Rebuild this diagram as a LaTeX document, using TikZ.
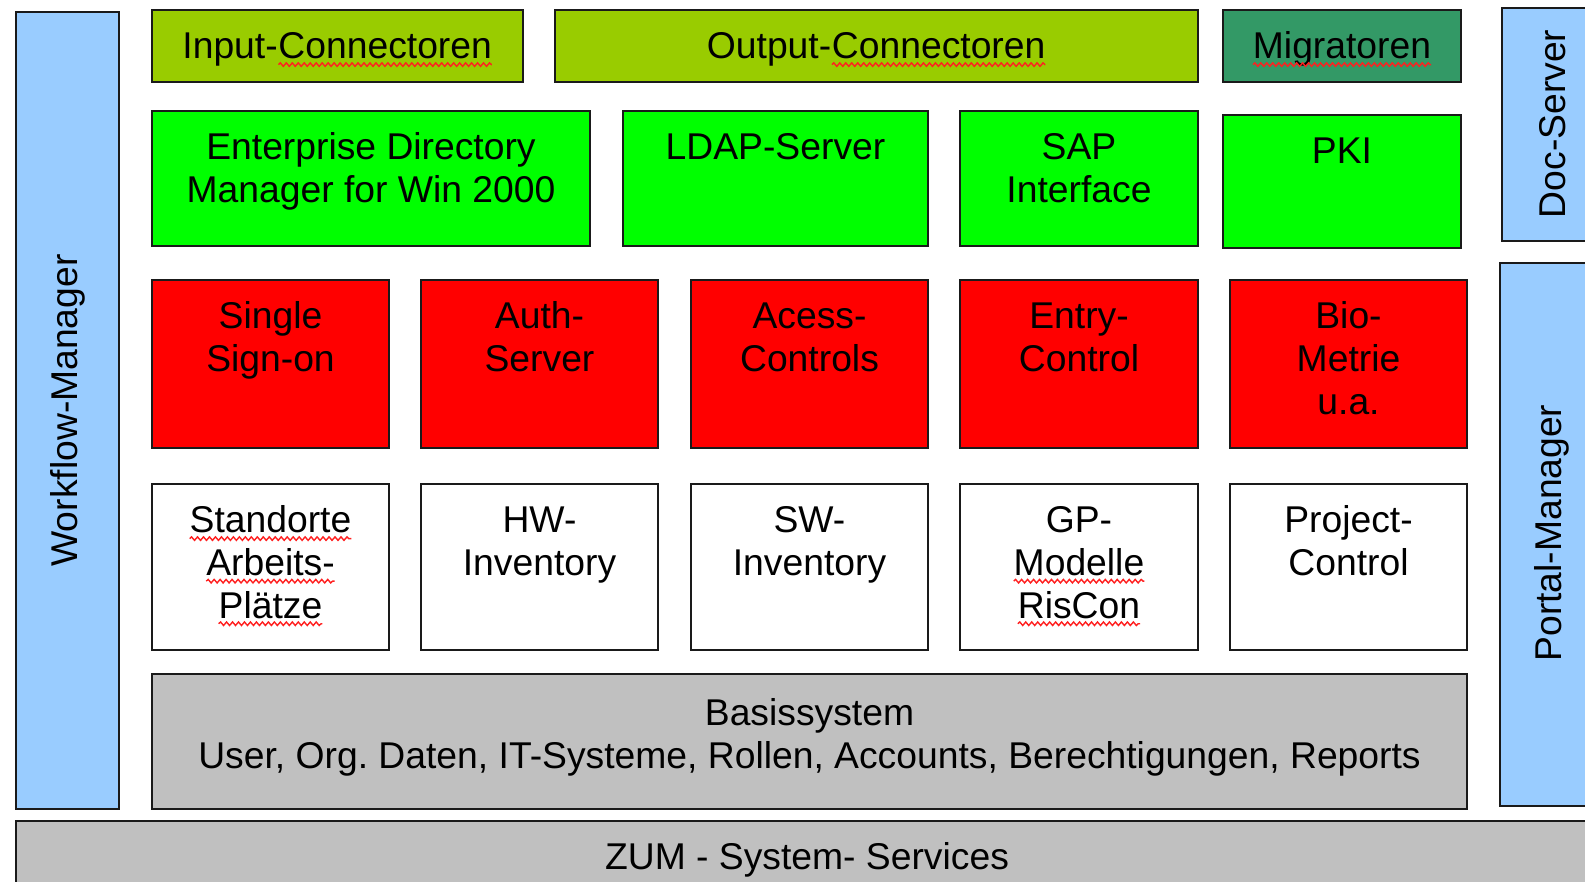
\documentclass[tikz,border=0pt]{standalone}
\usepackage{fontspec}
\setmainfont{Liberation Sans}
\usetikzlibrary{fit,calc,decorations.pathmorphing}
\frenchspacing

\definecolor{paneblue}{HTML}{99CCFF}
\definecolor{olivegreen}{HTML}{99CC00}
\definecolor{seagreen}{HTML}{339966}
\definecolor{brightgreen}{HTML}{00FF00}
\definecolor{alertred}{HTML}{FF0000}
\definecolor{basegray}{HTML}{C0C0C0}
\definecolor{edgegray}{HTML}{1A1A1A}
\definecolor{spellred}{HTML}{FF2020}

% word with a red wavy underline
\newcommand\wavy[1]{\tikz[baseline=(wv.base)]{\node[inner sep=0pt,outer sep=0pt,anchor=base] (wv) {#1};\draw[spellred,line width=0.4pt,decorate,decoration={snake,amplitude=0.5pt,segment length=1.7pt}] ([yshift=-1.6pt]wv.base west) -- ([yshift=-1.6pt]wv.base east);}}

% layer box spanning two corners: name, x1, y1, x2, y2, fill colour
\newcommand\layer[6]{%
  \coordinate (#1-a) at (#2,#3);
  \coordinate (#1-b) at (#4,#5);
  \node[blk,fill=#6,fit=(#1-a)(#1-b)] (#1) {};}

\begin{document}
\begin{tikzpicture}[x=0.01cm,y=-0.01cm,
  blk/.style={draw=edgegray,line width=0.75pt,inner sep=0pt,outer sep=0pt},
  txt/.style={font=\fontsize{10.6pt}{12.1pt}\selectfont,align=center,inner sep=0pt,anchor=north},
  vtxt/.style={font=\fontsize{10.6pt}{12.1pt}\selectfont,inner sep=0pt,rotate=90,anchor=center}]

\useasboundingbox (0,0) rectangle (1585,882);
\fill[white] (0,0) rectangle (1585,882);
\clip (0,0) rectangle (1585,882);

% side and bottom frames
\layer{wfm}{16}{12}{119}{809}{paneblue}
\layer{doc}{1502}{8}{1610}{241}{paneblue}
\layer{portal}{1500}{263}{1610}{806}{paneblue}
\layer{zum}{16}{821}{1600}{900}{basegray}
\layer{basis}{152}{674}{1467}{809}{basegray}

% connector row
\layer{in}{152}{10}{523}{82}{olivegreen}
\layer{out}{555}{10}{1198}{82}{olivegreen}
\layer{mig}{1223}{10}{1461}{82}{seagreen}

% directory / interface row
\layer{edm}{152}{111}{590}{246}{brightgreen}
\layer{ldap}{623}{111}{928}{246}{brightgreen}
\layer{sap}{960}{111}{1198}{246}{brightgreen}
\layer{pki}{1223}{115}{1461}{248}{brightgreen}

% security row
\layer{sso}{152}{280}{389}{448}{alertred}
\layer{auth}{421}{280}{658}{448}{alertred}
\layer{acc}{691}{280}{928}{448}{alertred}
\layer{entry}{960}{280}{1198}{448}{alertred}
\layer{bio}{1230}{280}{1467}{448}{alertred}

% inventory row
\layer{std}{152}{484}{389}{650}{white}
\layer{hw}{421}{484}{658}{650}{white}
\layer{sw}{691}{484}{928}{650}{white}
\layer{gp}{960}{484}{1198}{650}{white}
\layer{proj}{1230}{484}{1467}{650}{white}

% labels
\node[vtxt] (wfm-t) at (wfm.center) {Workflow-Manager};
\node[vtxt] (doc-t) at (1553,124) {Doc-Server};
\node[vtxt] (portal-t) at (1552,533) {Portal-Manager};

\node[txt] (in-t) at ($(in.north)+(0,18.5)$) {\strut Input-\wavy{Connectoren}};
\node[txt] (out-t) at ($(out.north)+(0,18.5)$) {\strut Output-\wavy{Connectoren}};
\node[txt] (mig-t) at ($(mig.north)+(0,18.5)$) {\strut\wavy{Migratoren}};

\node[txt] (edm-t) at ($(edm.north)+(0,18.5)$) {\strut Enterprise Directory\\Manager for Win 2000};
\node[txt] (ldap-t) at ($(ldap.north)+(0,18.5)$) {\strut LDAP-Server};
\node[txt] (sap-t) at ($(sap.north)+(0,18.5)$) {\strut SAP\\Interface};
\node[txt] (pki-t) at ($(pki.north)+(0,18.5)$) {\strut PKI};

\node[txt] (sso-t) at ($(sso.north)+(0,18.5)$) {\strut Single\\Sign-on};
\node[txt] (auth-t) at ($(auth.north)+(0,18.5)$) {\strut Auth-\\Server};
\node[txt] (acc-t) at ($(acc.north)+(0,18.5)$) {\strut Acess-\\Controls};
\node[txt] (entry-t) at ($(entry.north)+(0,18.5)$) {\strut Entry-\\Control};
\node[txt] (bio-t) at ($(bio.north)+(0,18.5)$) {\strut Bio-\\Metrie\\u.a.};

\node[txt] (std-t) at ($(std.north)+(0,18.5)$) {\strut\wavy{Standorte}\\\wavy{Arbeits-}\\\wavy{Plätze}};
\node[txt] (hw-t) at ($(hw.north)+(0,18.5)$) {\strut HW-\\Inventory};
\node[txt] (sw-t) at ($(sw.north)+(0,18.5)$) {\strut SW-\\Inventory};
\node[txt] (gp-t) at ($(gp.north)+(0,18.5)$) {\strut GP-\\\wavy{Modelle}\\\wavy{RisCon}};
\node[txt] (proj-t) at ($(proj.north)+(0,18.5)$) {\strut Project-\\Control};

\node[txt] (basis-t) at ($(basis.north)+(0,21.5)$) {\strut Basissystem\\User, Org. Daten, IT-Systeme, Rollen, Accounts, Berechtigungen, Reports};
\node[txt] (zum-t) at (807,839) {\strut ZUM - System- Services};
\end{tikzpicture}
\end{document}
